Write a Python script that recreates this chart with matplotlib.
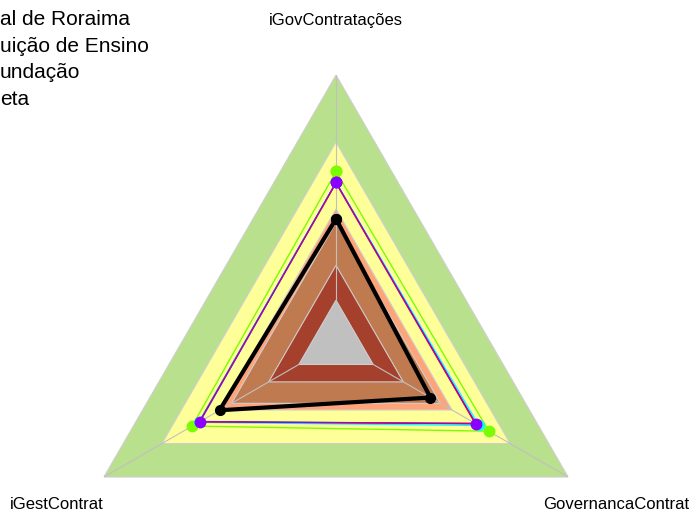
import numpy as np
import matplotlib.pyplot as plt

plt.rcParams["font.family"] = ["Liberation Sans", "DejaVu Sans"]

# Data
CATEGORIES = ["iGovContratações", "GovernancaContrat", "iGestContrat"]

BAND_LEVELS = [1.0, 0.75, 0.50, 0.45, 0.29, 0.16]
BAND_COLORS = ["#b8e08d", "#ffff99", "#ffa379", "#c07a50", "#a5402d", "#c0c0c0"]

orgao = [0.463, 0.407, 0.502]
inst_ensino = [0.600, 0.604, 0.587]
fundacao = [0.600, 0.615, 0.592]
serie_red = [0.597, 0.600, 0.589]
serie_blue = [0.598, 0.601, 0.586]
meta = [0.640, 0.658, 0.620]

LEGEND_LABELS = ["al de Roraima", "uição de Ensino", "undação", "eta"]

n = len(CATEGORIES)
angles = np.linspace(0, 2 * np.pi, n, endpoint=False)
angles_closed = np.append(angles, angles[0])


def closed(vals):
    return np.append(vals, vals[0])


fig = plt.figure(figsize=(6.89, 5.12), dpi=100)
ax = fig.add_axes([0.0987, -0.1934, 0.778, 1.0469], projection="polar")
ax.set_theta_offset(np.pi / 2)
ax.set_theta_direction(-1)
ax.set_ylim(0, 1)
ax.patch.set_alpha(0)
ax.spines["polar"].set_visible(False)

# background bands
for lvl, col in zip(BAND_LEVELS, BAND_COLORS):
    ax.fill(angles_closed, [lvl] * (n + 1), color=col, edgecolor="#cfcfcf",
            linewidth=0.8, zorder=1)

# radial grid lines
ax.set_xticks(angles)
ax.set_xticklabels([])
ax.set_yticks([])
ax.xaxis.grid(True, color="#c0c0c0", linewidth=0.8)
ax.yaxis.grid(False)

# series
l1, = ax.plot(angles_closed, closed(orgao), color="black", linewidth=3,
              marker="o", markersize=7, zorder=6)
ax.plot(angles_closed, closed(serie_blue), color="#2050ff", linewidth=1, zorder=2.5)
l3, = ax.plot(angles_closed, closed(fundacao), color="cyan", linewidth=1,
              marker="o", markersize=7, zorder=2.6)
ax.plot(angles_closed, closed(serie_red), color="red", linewidth=1, zorder=2.7)
l2, = ax.plot(angles_closed, closed(inst_ensino), color="#8a00ff", linewidth=0.7,
              marker="o", markersize=7.5, zorder=4)
l4, = ax.plot(angles_closed, closed(meta), color="#7cfc00", linewidth=1,
              marker="o", markersize=7.5, zorder=2)

# axis labels
for ang, name in zip(angles, CATEGORIES):
    ax.text(ang, 1.205, name, ha="center", va="center", fontsize=12)

fig.legend([l1, l2, l3, l4], LEGEND_LABELS, loc="upper left",
           bbox_to_anchor=(-0.0968, 0.996), borderaxespad=0, frameon=False,
           fontsize=15, labelspacing=0.36, handlelength=2, handletextpad=0.8)

plt.savefig("out.png", dpi=100)
